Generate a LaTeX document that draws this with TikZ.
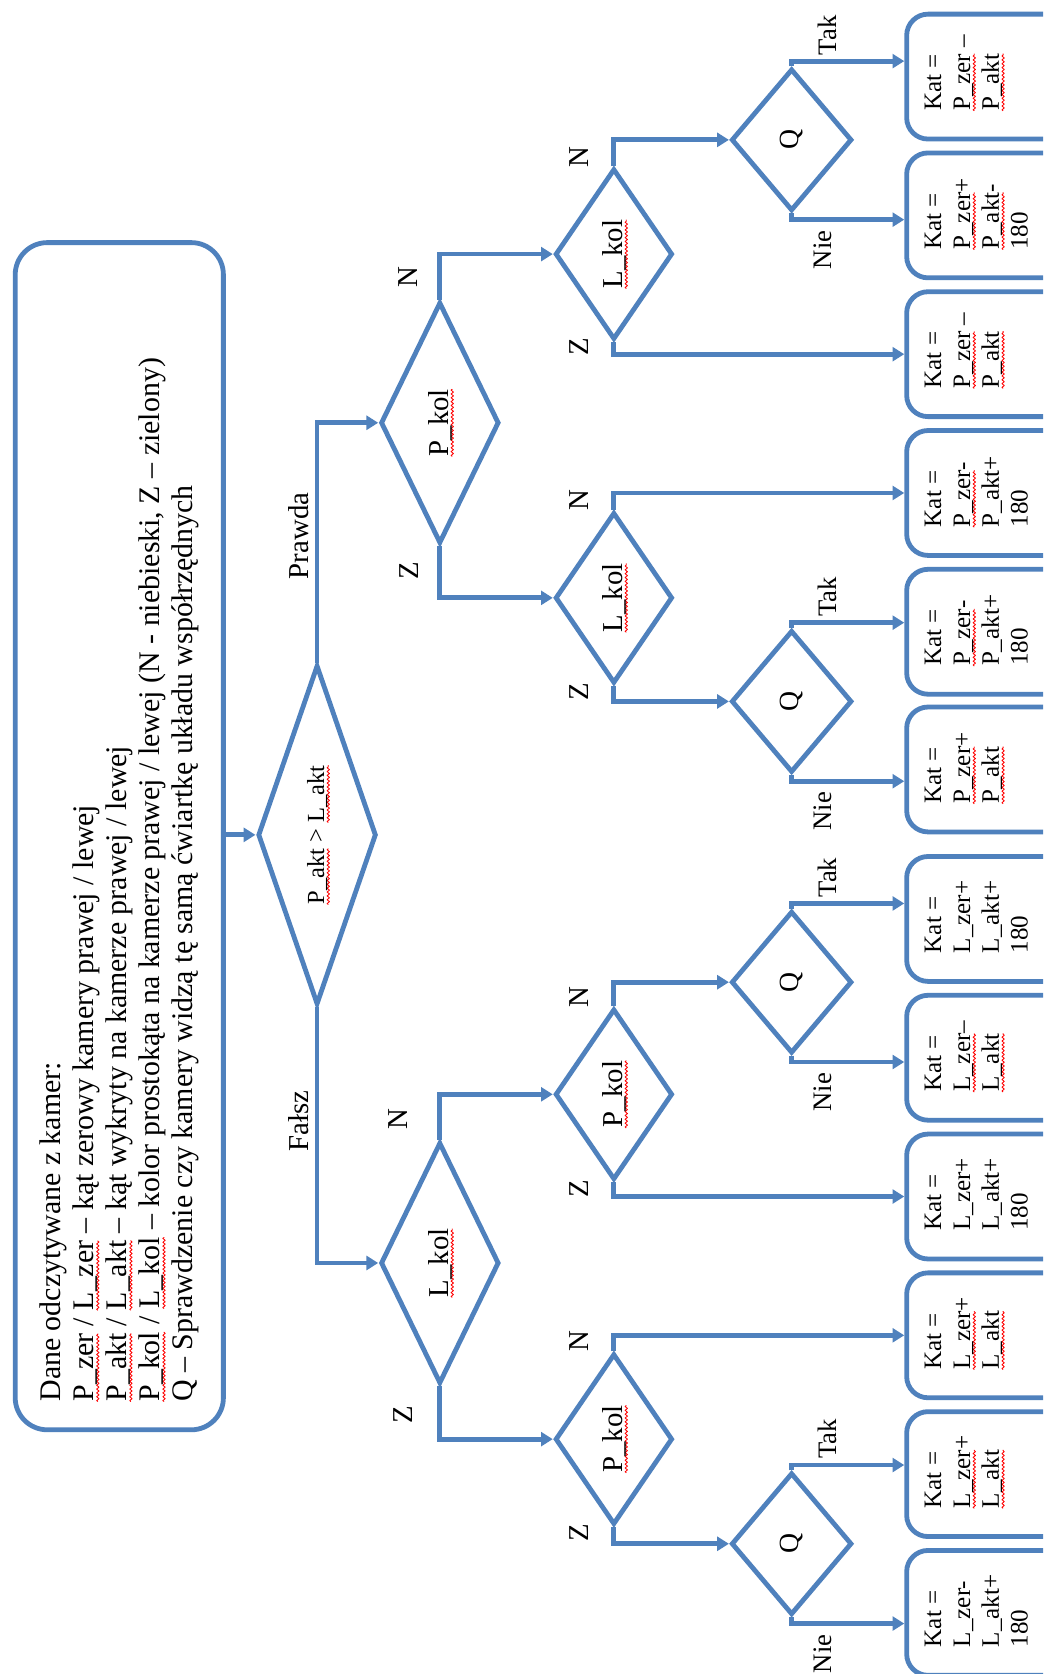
\documentclass[tikz,border=0pt]{standalone}
\usepackage{fontspec}
\setmainfont{Liberation Serif}
\usepackage{graphicx}
\usetikzlibrary{shapes.geometric,arrows.meta,decorations.pathmorphing}
\definecolor{flow}{RGB}{79,129,189}
% red wavy underline of the spell checker
\newsavebox\sqbox
\newcommand\sq[1]{\sbox\sqbox{#1}\rlap{\tikz[overlay,x=1pt,y=1pt,baseline=0pt]\draw[red,line width=0.8pt,line join=round,decorate,decoration={zigzag,amplitude=1.1pt,segment length=3.6pt}] (0pt,-4pt) -- (\wd\sqbox,-4pt);}\usebox\sqbox}
\newcommand\rt[1]{\rotatebox{90}{#1}}
\begin{document}
\begin{tikzpicture}[x=1pt,y=-1pt,
  conn/.style={draw=flow,line width=4.5pt},
  arr/.style={conn,-{Triangle[length=11pt,width=13pt]}},
  dia/.style={diamond,draw=flow,line width=4.5pt,inner sep=0pt,font=\fontsize{27}{30}\selectfont},
  resbox/.style={draw=flow,line width=4.5pt,rounded corners=20pt,minimum width=170pt,minimum height=117pt,anchor=north west,inner sep=0pt},
  restxt/.style={rotate=90,anchor=north west,align=left,inner sep=0pt,font=\fontsize{23.5}{27}\selectfont},
  lbl/.style={rotate=90,inner sep=0pt,font=\fontsize{27}{30}\selectfont},
  yn/.style={rotate=90,inner sep=0pt,font=\fontsize{25}{28}\selectfont},
]
\useasboundingbox (0,0) rectangle (977,1568);
\fill[white] (0,0) rectangle (977,1568);
\clip (0,0) rectangle (977,1568);

% legend box
\node[draw=flow,line width=4.5pt,rounded corners=30pt,minimum width=195pt,minimum height=1112pt,anchor=north west] (info) at (12,225) {};
\node[rotate=90,anchor=north west,align=left,inner sep=0pt,font=\fontsize{28}{31}\selectfont] (infotxt) at (37,1313)
 {Dane odczytywane z kamer:\\
  \sq{P\_zer} / \sq{L\_zer} – kąt zerowy kamery prawej / lewej\\
  \sq{P\_akt} / \sq{L\_akt} – kąt wykryty na kamerze prawej / lewej\\
  \sq{P\_kol} / \sq{L\_kol} – kolor prostokąta na kamerze prawej / lewej (N - niebieski, Z – zielony)\\
  Q – Sprawdzenie czy kamery widzą tę samą ćwiartkę układu współrzędnych};

% decisions
\node[dia,minimum width=111pt,minimum height=318pt,shape aspect=0.35,font=\fontsize{23}{26}\selectfont] (d0) at (297,782) {\rt{\sq{P\_akt} > \sq{L\_akt}}};
\node[dia,minimum width=111pt,minimum height=226pt,shape aspect=0.5] (p1) at (412,396) {\rt{\sq{P\_kol}}};
\node[dia,minimum width=111pt,minimum height=226pt,shape aspect=0.5] (l1) at (412,1183) {\rt{\sq{L\_kol}}};
\node[dia,minimum width=110pt,minimum height=160pt,shape aspect=0.7] (la) at (575,238) {\rt{\sq{L\_kol}}};
\node[dia,minimum width=110pt,minimum height=160pt,shape aspect=0.7] (lb) at (575,560) {\rt{\sq{L\_kol}}};
\node[dia,minimum width=110pt,minimum height=160pt,shape aspect=0.7] (pc) at (575,1025) {\rt{\sq{P\_kol}}};
\node[dia,minimum width=110pt,minimum height=160pt,shape aspect=0.7] (pd) at (575,1348) {\rt{\sq{P\_kol}}};
\node[dia,minimum width=113pt,minimum height=133pt,shape aspect=0.85,font=\fontsize{26}{28}\selectfont] (qa) at (741.5,131) {\rt{Q}};
\node[dia,minimum width=113pt,minimum height=133pt,shape aspect=0.85,font=\fontsize{26}{28}\selectfont] (qb) at (741.5,657) {\rt{Q}};
\node[dia,minimum width=113pt,minimum height=133pt,shape aspect=0.85,font=\fontsize{26}{28}\selectfont] (qc) at (741.5,920) {\rt{Q}};
\node[dia,minimum width=113pt,minimum height=133pt,shape aspect=0.85,font=\fontsize{26}{28}\selectfont] (qd) at (741.5,1446) {\rt{Q}};

% results
\node[resbox] (b1) at (847,11) {};
\node[resbox] (b2) at (847,141) {};
\node[resbox] (b3) at (847,271) {};
\node[resbox] (b4) at (847,401) {};
\node[resbox] (b5) at (847,531) {};
\node[resbox] (b6) at (847,660) {};
\node[resbox] (b7) at (847,800) {};
\node[resbox] (b8) at (847,930) {};
\node[resbox] (b9) at (847,1060) {};
\node[resbox] (b10) at (847,1190) {};
\node[resbox] (b11) at (847,1320) {};
\node[resbox] (b12) at (847,1450) {};

\node[restxt] (t1) at (866,104) {Kat =\\ \sq{P\_zer} –\\ \sq{P\_akt}};
\node[restxt] (t2) at (866,234) {Kat =\\ \sq{P\_zer}+\\ \sq{P\_akt}-\\ 180};
\node[restxt] (t3) at (866,364) {Kat =\\ \sq{P\_zer} –\\ \sq{P\_akt}};
\node[restxt] (t4) at (866,494) {Kat =\\ \sq{P\_zer}-\\ P\_akt+\\ 180};
\node[restxt] (t5) at (866,624) {Kat =\\ \sq{P\_zer}-\\ P\_akt+\\ 180};
\node[restxt] (t6) at (866,753) {Kat =\\ \sq{P\_zer}+\\ \sq{P\_akt}};
\node[restxt] (t7) at (866,893) {Kat =\\ L\_zer+\\ L\_akt+\\ 180};
\node[restxt] (t8) at (866,1023) {Kat =\\ \sq{L\_zer}–\\ \sq{L\_akt}};
\node[restxt] (t9) at (866,1153) {Kat =\\ L\_zer+\\ L\_akt+\\ 180};
\node[restxt] (t10) at (866,1283) {Kat =\\ \sq{L\_zer}+\\ \sq{L\_akt}};
\node[restxt] (t11) at (866,1413) {Kat =\\ \sq{L\_zer}+\\ \sq{L\_akt}};
\node[restxt] (t12) at (866,1543) {Kat =\\ L\_zer-\\ L\_akt+\\ 180};

% connectors
\draw[arr] (info.east |- d0.west) -- (d0.west);
\draw[arr] (d0.north) |- (p1.west);
\draw[arr] (d0.south) |- (l1.west);
\draw[arr] (p1.north) |- (la.west);
\draw[arr] (p1.south) |- (lb.west);
\draw[arr] (l1.north) |- (pc.west);
\draw[arr] (l1.south) |- (pd.west);
\draw[arr] (la.north) |- (qa.west);
\draw[arr] (la.south) |- (b3.west);
\draw[arr] (lb.north) |- (b4.west);
\draw[arr] (lb.south) |- (qb.west);
\draw[arr] (pc.north) |- (qc.west);
\draw[arr] (pc.south) |- (b9.west);
\draw[arr] (pd.north) |- (b10.west);
\draw[arr] (pd.south) |- (qd.west);
\draw[arr] (qa.north) -- ++(0,-5) coordinate (qa-t) -- (qa-t -| b1.west);
\draw[arr] (qa.south) -- ++(0,6) coordinate (qa-f) -- (qa-f -| b2.west);
\draw[arr] (qb.north) -- ++(0,-5) coordinate (qb-t) -- (qb-t -| b5.west);
\draw[arr] (qb.south) -- ++(0,6) coordinate (qb-f) -- (qb-f -| b6.west);
\draw[arr] (qc.north) -- ++(0,-5) coordinate (qc-t) -- (qc-t -| b7.west);
\draw[arr] (qc.south) -- ++(0,6) coordinate (qc-f) -- (qc-f -| b8.west);
\draw[arr] (qd.north) -- ++(0,-5) coordinate (qd-t) -- (qd-t -| b11.west);
\draw[arr] (qd.south) -- ++(0,6) coordinate (qd-f) -- (qd-f -| b12.west);

% branch labels
\node[lbl] (lt) at (280,502) {Prawda};
\node[lbl] (lf) at (280,1050) {Fałsz};
\node[lbl] (p1n) at (382,260) {N};
\node[lbl] (p1z) at (383,535) {Z};
\node[lbl] (l1n) at (373,1048) {N};
\node[lbl] (l1z) at (378,1325) {Z};
\node[lbl] (lan) at (542,147) {N};
\node[lbl] (laz) at (542,325) {Z};
\node[lbl] (lbn) at (542,468) {N};
\node[lbl] (lbz) at (542,648) {Z};
\node[lbl] (pcn) at (542,934) {N};
\node[lbl] (pcz) at (542,1113) {Z};
\node[lbl] (pdn) at (542,1256) {N};
\node[lbl] (pdz) at (542,1436) {Z};
\node[yn] (qat) at (775,33) {Tak};
\node[yn] (qaf) at (771,234) {Nie};
\node[yn] (qbt) at (775,559) {Tak};
\node[yn] (qbf) at (771,760) {Nie};
\node[yn] (qct) at (775,822) {Tak};
\node[yn] (qcf) at (771,1023) {Nie};
\node[yn] (qdt) at (775,1348) {Tak};
\node[yn] (qdf) at (771,1549) {Nie};
\end{tikzpicture}
\end{document}
